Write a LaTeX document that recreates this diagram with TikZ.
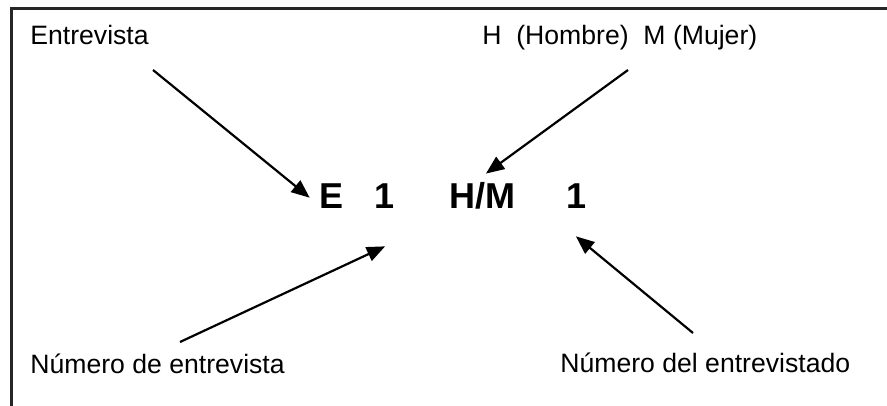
\documentclass[tikz,border=0pt]{standalone}
\usepackage{fontspec}
\setmainfont{Liberation Sans}
\usetikzlibrary{arrows, positioning}

\begin{document}
\begin{tikzpicture}[x=0.5pt, y=-0.5pt,
  label/.style={anchor=base west, inner sep=0pt, font=\fontsize{13.3}{15}\selectfont},
  code/.style={anchor=base, inner sep=2pt, font=\fontsize{18}{21}\selectfont\bfseries},
  pointer/.style={-triangle 45, line width=1.1pt}]
\useasboundingbox (0,0) rectangle (887,406);

% frame (top and left side only)
\draw[line width=1.5pt, black!85] (887,9) -- (11,9) -- (11,406);

% code parts
\node[code] (E) at (332,208) {E};
\node[code] (one1) at (385,208) {1};
\node[code] (HM) at (482,208) {H/M};
\node[code] (one2) at (576,208) {1};

% labels
\node[label] (lblE) at (30,45) {Entrevista};
\node[label] (lblHM) at (482,45) {H\ \ (Hombre)\ \ M (Mujer)};
\node[label] (lblnum) at (30,373) {Número de entrevista};
\node[label] (lbldel) at (560,372) {Número del entrevistado};

% free ends of the arrows
\coordinate (fromE) at (153,70);
\coordinate (fromHM) at (628,70);
\coordinate (fromnum) at (180,342);
\coordinate (fromdel) at (693,333);

\draw[pointer] (fromE) -- ([xshift=-3pt, yshift=-1pt]E.west);
\draw[pointer] (fromHM) -- ([xshift=2pt, yshift=2pt]HM.north);
\draw[pointer] (fromnum) -- ([yshift=-17pt]one1.south);
\draw[pointer] (fromdel) -- ([yshift=-12pt]one2.south);
\end{tikzpicture}
\end{document}
